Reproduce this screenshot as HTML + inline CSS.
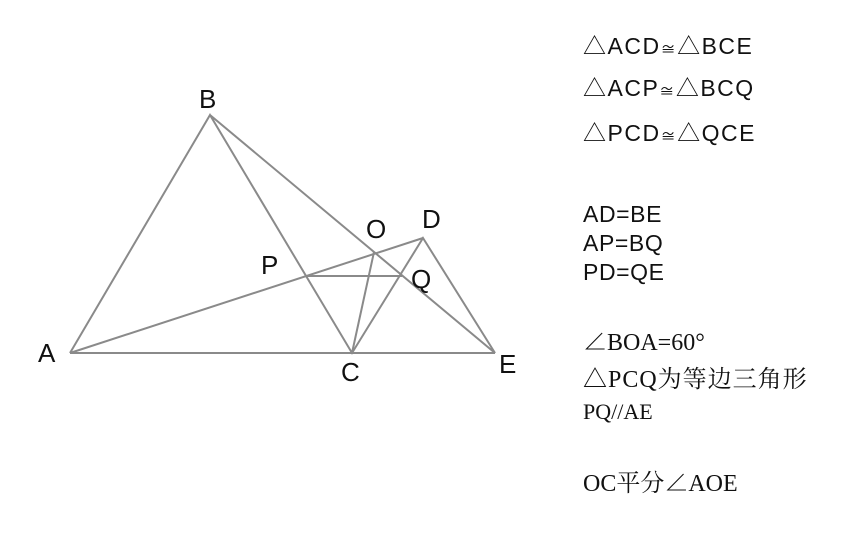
<!DOCTYPE html>
<html><head><meta charset="utf-8"><style>
body{margin:0;width:865px;height:535px;background:#fff;overflow:hidden;position:relative}
.t{position:absolute;left:583px;font-size:23px;color:#111;white-space:nowrap;line-height:1}
.s{font-family:"Liberation Sans","Noto Sans CJK SC",sans-serif;letter-spacing:0.6px}
.r{font-family:"Liberation Serif","Noto Serif CJK SC",serif;font-size:24px}
.c{font-size:15px}
</style></head><body>
<svg width="865" height="535" style="position:absolute;left:0;top:0">
<g stroke="#8a8a8a" stroke-width="2" fill="none">
<polyline points="70,353 210,115 352,353 423,238 495,353 210,115"/>
<line x1="70" y1="353" x2="495" y2="353"/>
<line x1="70" y1="353" x2="423" y2="238"/>
<line x1="307" y1="276" x2="402" y2="276"/>
<line x1="374" y1="252" x2="352" y2="353"/>
</g>
<g font-family="Liberation Sans, sans-serif" font-size="26" fill="#111">
<text x="38" y="362">A</text>
<text x="199" y="108">B</text>
<text x="341" y="381">C</text>
<text x="422" y="228">D</text>
<text x="499" y="373">E</text>
<text x="366" y="238">O</text>
<text x="261" y="274">P</text>
<text x="411" y="288">Q</text>
</g>
</svg>
<div class="t s" style="top:35px;letter-spacing:1.5px">△ACD<span class="c">≅</span>△BCE</div>
<div class="t s" style="top:77px;letter-spacing:1.5px">△ACP<span class="c">≅</span>△BCQ</div>
<div class="t s" style="top:122px;letter-spacing:1.5px">△PCD<span class="c">≅</span>△QCE</div>
<div class="t s" style="top:203px">AD=BE</div>
<div class="t s" style="top:232px">AP=BQ</div>
<div class="t s" style="top:261px">PD=QE</div>
<div class="t r" style="top:331px">∠BOA=60°</div>
<div class="t r" style="top:368px;letter-spacing:1px">△PCQ为等边三角形</div>
<div class="t r" style="top:401px;font-size:22px">PQ//AE</div>
<div class="t r" style="top:472px">OC平分∠AOE</div>
</body></html>
